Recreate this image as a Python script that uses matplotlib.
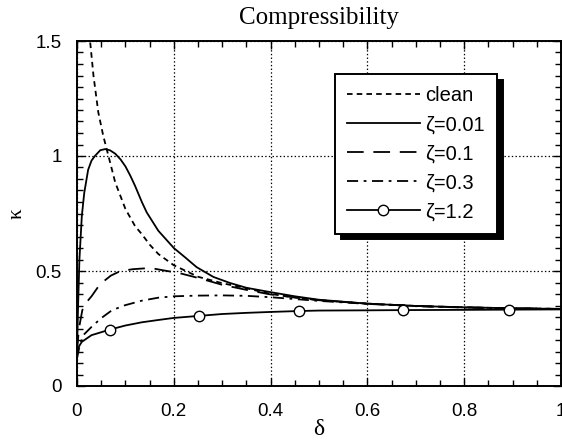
import numpy as np
import matplotlib
matplotlib.use('Agg')
import matplotlib.pyplot as plt

# values
delta_clean = [0.025, 0.027, 0.034, 0.044, 0.054, 0.065, 0.079, 0.1, 0.12, 0.134, 0.15,
               0.168, 0.2, 0.25, 0.3, 0.35, 0.4, 0.45, 0.5, 0.6, 0.7, 0.8, 0.9, 1.0]
kappa_clean = [1.62, 1.50, 1.35, 1.19, 1.09, 1.00, 0.885, 0.77, 0.695, 0.66, 0.615,
               0.574, 0.525, 0.475, 0.447, 0.425, 0.40, 0.385, 0.373, 0.358, 0.348, 0.342, 0.338, 0.335]

delta_z001 = [0.0, 0.002, 0.005, 0.01, 0.015, 0.023, 0.03, 0.037, 0.048, 0.058, 0.068, 0.079,
              0.09, 0.1, 0.11, 0.12, 0.134, 0.144, 0.168, 0.2, 0.223, 0.247, 0.282, 0.316, 0.35,
              0.4, 0.45, 0.5, 0.6, 0.7, 0.8, 0.9, 1.0]
kappa_z001 = [0.15, 0.33, 0.55, 0.74, 0.84, 0.94, 0.98, 1.0, 1.025, 1.03, 1.025, 1.01,
              0.985, 0.955, 0.915, 0.87, 0.80, 0.755, 0.675, 0.60, 0.56, 0.517, 0.474, 0.448, 0.427,
              0.408, 0.39, 0.375, 0.358, 0.348, 0.342, 0.338, 0.335]

delta_z01 = [0.0, 0.004, 0.011, 0.02, 0.03, 0.048, 0.058, 0.07, 0.085, 0.1, 0.116, 0.144,
             0.16, 0.178, 0.2, 0.213, 0.25, 0.3, 0.35, 0.4, 0.45, 0.5, 0.6, 0.7, 0.8, 0.9, 1.0]
kappa_z01 = [0.15, 0.25, 0.33, 0.365, 0.39, 0.444, 0.46, 0.48, 0.495, 0.503, 0.508, 0.512,
             0.51, 0.503, 0.495, 0.49, 0.47, 0.44, 0.418, 0.398, 0.385, 0.373, 0.358, 0.348, 0.342, 0.338, 0.335]

delta_z03 = [0.0, 0.005, 0.013, 0.03, 0.05, 0.072, 0.099, 0.134, 0.168, 0.2, 0.25, 0.3, 0.35,
             0.4, 0.45, 0.5, 0.6, 0.7, 0.8, 0.9, 1.0]
kappa_z03 = [0.12, 0.17, 0.221, 0.257, 0.295, 0.329, 0.351, 0.371, 0.384, 0.39, 0.393, 0.394, 0.392,
             0.386, 0.378, 0.37, 0.357, 0.347, 0.341, 0.337, 0.335]

delta_z12 = [0.0, 0.005, 0.01, 0.03, 0.0675, 0.1, 0.134, 0.168, 0.2, 0.253, 0.3, 0.35, 0.4,
             0.459, 0.5, 0.6, 0.673, 0.8, 0.892, 1.0]
kappa_z12 = [0.15, 0.175, 0.192, 0.221, 0.245, 0.263, 0.277, 0.287, 0.296, 0.305, 0.313, 0.318, 0.322,
             0.326, 0.328, 0.329, 0.330, 0.331, 0.332, 0.333]
marker_idx = [4, 9, 13, 16, 18]

xticks = [0, 0.2, 0.4, 0.6, 0.8, 1.0]
xticklabels = ['0', '0.2', '0.4', '0.6', '0.8', '1']
yticks = [0, 0.5, 1.0, 1.5]
yticklabels = ['0', '0.5', '1', '1.5']

plt.rcParams['font.family'] = ['Liberation Sans', 'DejaVu Sans']
plt.rcParams['lines.scale_dashes'] = False
serif = ['Liberation Serif', 'DejaVu Serif']

fig = plt.figure(figsize=(5.62, 4.47), dpi=100)
ax = fig.add_axes([77/562, 1-386/447, 484/562, 345/447])

lw = 1.3
ax.plot(delta_clean, kappa_clean, color='k', lw=lw, dashes=(4, 3), label='clean')
ax.plot(delta_z001, kappa_z001, color='k', lw=lw, label='ζ=0.01')
ax.plot(delta_z01, kappa_z01, color='k', lw=lw, dashes=(12, 7), label='ζ=0.1')
ax.plot(delta_z03, kappa_z03, color='k', lw=lw, dashes=(8, 4, 2, 4), label='ζ=0.3')
ax.plot(delta_z12, kappa_z12, color='k', lw=lw, marker='o', markersize=7.5,
        markerfacecolor='white', markeredgecolor='k', markeredgewidth=1.0,
        markevery=marker_idx, label='ζ=1.2')

ax.set_xlim(0, 1)
ax.set_ylim(0, 1.5)
ax.set_xticks(xticks)
ax.set_xticklabels(xticklabels)
ax.set_yticks(yticks)
ax.set_yticklabels(yticklabels)
ax.set_xticks(np.arange(0, 1.0001, 0.05), minor=True)
ax.set_yticks(np.arange(0, 1.5001, 0.05), minor=True)
ax.tick_params(which='both', direction='in', top=True, right=True, labelsize=13.5)
ax.tick_params(axis='x', pad=12)
ax.tick_params(axis='y', pad=11)
ax.tick_params(which='major', length=6, width=1.0)
ax.tick_params(which='minor', length=4, width=1.0)
ax.grid(True, which='major', linestyle=':', color='k', linewidth=0.9)
for s in ax.spines.values():
    s.set_linewidth(1.4)

ax.set_title('Compressibility', family=serif, fontsize=18, pad=12)
ax.set_xlabel('δ', family=serif, fontsize=17)
ax.set_ylabel('κ', family=serif, fontsize=15)
ax.xaxis.set_label_coords(0.5, -0.095)
ax.yaxis.set_label_coords(-0.105, 0.5)

leg = ax.legend(loc='upper left', bbox_to_anchor=(0.533, 0.904), borderaxespad=0,
                fontsize=14.5, handlelength=3.6, handletextpad=0.3, labelspacing=0.5,
                borderpad=0.6, fancybox=False, framealpha=1, edgecolor='k',
                shadow={'color': 'black', 'alpha': 1, 'ox': 4, 'oy': -4})
leg.get_frame().set_linewidth(1.4)

fig.savefig('out.png', dpi=100)
